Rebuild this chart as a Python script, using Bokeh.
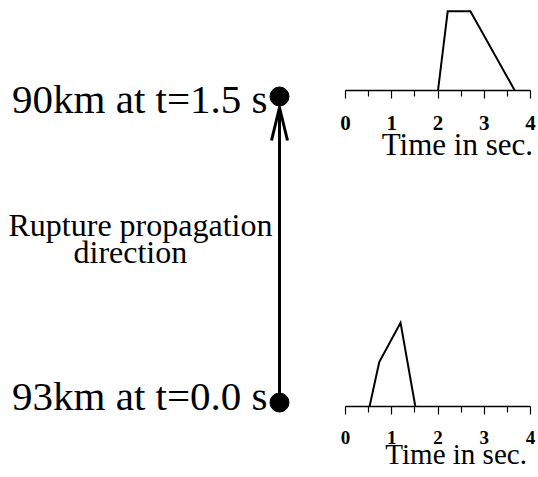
from bokeh.plotting import figure
from bokeh.layouts import row, column
from bokeh.models import Range1d, FixedTicker
from bokeh.core.properties import value
from bokeh.embed import file_html
from bokeh.resources import INLINE

# ---------------- data ----------------
site_dist_km = [93, 90]          # bottom site, top site
site_time_s = [0.0, 1.5]
site_labels = [f"{d}km at t={t:.1f} s" for d, t in zip(site_dist_km, site_time_s)]
note_lines = ["Rupture propagation", "direction"]

# source time functions (time in s, relative amplitude)
top_t = [2.0, 2.21, 2.70, 3.66]
top_amp = [0.0, 0.945, 0.945, 0.0]
bot_t = [0.52, 0.73, 1.19, 1.51]
bot_amp = [0.0, 0.53, 1.0, 0.0]

major_ticks = [0, 1, 2, 3, 4]
minor_ticks = [0.5, 1.5, 2.5, 3.5]
axis_title = "Time in sec."

SERIF = "Liberation Serif"
NBSP = "\u00a0"

# ---------------- left panel (distance along fault) ----------------
PX_PER_KM = 102.0
TOP_DOT_PX = 96.0
BASE_SHIFT = 12  # svg baseline correction


def km_at(py):
    return 90 + (py - TOP_DOT_PX) / PX_PER_KM


left = figure(width=330, height=477, output_backend="svg", toolbar_location=None,
              x_range=Range1d(0, 330), y_range=Range1d(km_at(477), km_at(0)),
              x_axis_type=None, y_axis_type=None, min_border=0)
left.grid.visible = False
left.outline_line_color = None
left.background_fill_color = "white"
left.border_fill_color = "white"

XLINE = 279
tip = km_at(TOP_DOT_PX + 11)
arm = km_at(TOP_DOT_PX + 44)
left.segment(x0=[XLINE], y0=[site_dist_km[0]], x1=[XLINE], y1=[tip],
             line_width=3, line_color="black")
left.multi_line(xs=[[XLINE - 8, XLINE, XLINE + 8]], ys=[[arm, tip, arm]],
                line_width=3, line_color="black", line_join="miter")
left.scatter(x=[XLINE, XLINE], y=site_dist_km, size=19, color="black")

left.text(x=[267, 267], y=[km_at(407 - BASE_SHIFT), km_at(110 - BASE_SHIFT)], text=site_labels,
          text_align="right", text_baseline="alphabetic",
          text_font=value(SERIF), text_font_size="41px", text_color="black")
left.text(x=[8, 73], y=[km_at(236 - BASE_SHIFT), km_at(263 - BASE_SHIFT)], text=note_lines,
          text_align="left", text_baseline="alphabetic",
          text_font=value(SERIF), text_font_size="32px", text_color="black")


# ---------------- right panels ----------------
def wave_fig(h, bl, br, bt, bb, t, amp, tick_size, standoff, title_size, title_standoff, pad):
    f = figure(width=208, height=h, output_backend="svg", toolbar_location=None,
               x_range=Range1d(0, 4), y_range=Range1d(0, 1.05), y_axis_type=None,
               min_border_left=bl, min_border_right=br, min_border_top=bt,
               min_border_bottom=bb)
    f.grid.visible = False
    f.outline_line_color = None
    f.background_fill_color = "white"
    f.border_fill_color = "white"
    ax = f.xaxis[0]
    ax.ticker = FixedTicker(ticks=major_ticks, minor_ticks=minor_ticks)
    ax.major_tick_out = 8
    ax.major_tick_in = 0
    ax.minor_tick_out = 6
    ax.minor_tick_in = 0
    ax.axis_line_width = 1.5
    ax.major_tick_line_width = 1.2
    ax.minor_tick_line_width = 1.2
    ax.major_label_text_font = SERIF
    ax.major_label_text_font_style = "bold"
    ax.major_label_text_font_size = tick_size
    ax.major_label_text_color = "black"
    ax.major_label_standoff = standoff
    ax.axis_label = NBSP * pad + axis_title
    ax.axis_label_text_font = SERIF
    ax.axis_label_text_font_style = "normal"
    ax.axis_label_text_font_size = title_size
    ax.axis_label_text_color = "black"
    ax.axis_label_standoff = title_standoff
    ax.axis_label_align = "center"
    f.line(t, amp, line_width=2, line_color="black", line_join="miter")
    return f


top = wave_fig(240, 14, 8, 2, 150, top_t, top_amp, "21px", 17, "31px", -6, 5)
bottom = wave_fig(237, 15, 5, 78, 71, bot_t, bot_amp, "19px", 16, "29px", -9, 5)

layout = row(left, column(top, bottom))

open("out.html", "w").write(file_html(layout, INLINE))
